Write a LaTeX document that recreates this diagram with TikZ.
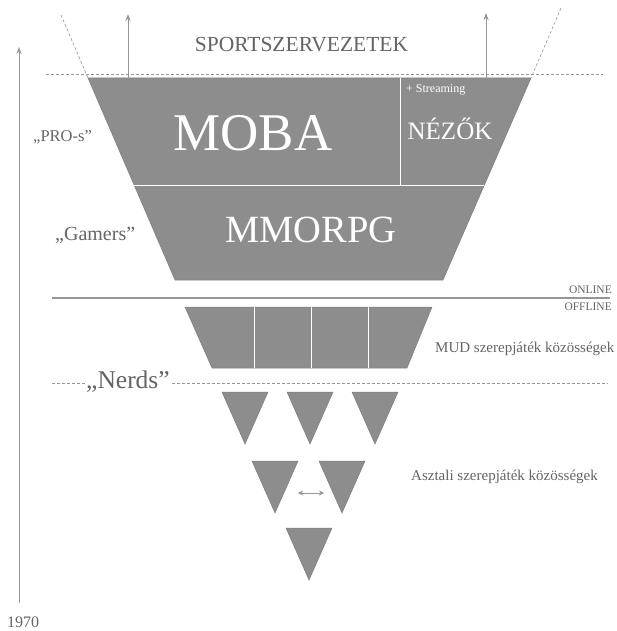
\documentclass[tikz,border=0pt]{standalone}
\usepackage{fontspec}
\setmainfont{Liberation Serif}
\newfontfamily\diagfont{Liberation Serif}
\usetikzlibrary{arrows.meta}
\definecolor{boxgray}{RGB}{141,141,141}
\definecolor{txtgray}{RGB}{100,100,100}
\definecolor{linegray}{RGB}{150,150,150}

\begin{document}
\begin{tikzpicture}[x=1pt, y=-1pt,
  funnel/.style={fill=boxgray, draw=boxgray!88!black, line width=0.5pt},
  sepline/.style={draw=white, line width=0.7pt},
  dashline/.style={draw=linegray, line width=0.6pt, dash pattern=on 3pt off 2pt},
  upline/.style={draw=linegray, line width=1pt, -{Stealth[length=7pt, width=5pt]}},
  lbl/.style={inner sep=0pt, text=txtgray},
  inlbl/.style={inner sep=0pt, text=white}]
\useasboundingbox (0,0) rectangle (617,631);

\draw[dashline] (46,74) -- (603,74);
\draw[dashline] (61,15) -- (88,78);
\draw[dashline] (561,8) -- (531,78);

\filldraw[funnel] (88,78) -- (531,78) -- (443,280) -- (175,280) -- cycle;
\draw[sepline] (134,185) -- (484,185);
\draw[sepline] (400,78) -- (400,185);

\filldraw[funnel] (185,307) -- (432,307) -- (407,368) -- (212,368) -- cycle;
\foreach \dx in {254, 311, 368}
  \draw[sepline] (\dx,307) -- (\dx,368);

\foreach \tx/\ty in {222/392, 287/392, 352/392, 252/461, 319/461, 286/528}
  \filldraw[funnel] (\tx,\ty) -- ++(46,0) -- ++(-23,52) -- cycle;

\coordinate (axis0) at (19,603);
\coordinate (axis1) at (19,47);
\coordinate (up1a) at (128,78);
\coordinate (up1b) at (128,14);
\coordinate (up2a) at (486,78);
\coordinate (up2b) at (486,13);
\coordinate (swapl) at (298,493);
\coordinate (swapr) at (324,493);
\coordinate (onl) at (52,298);
\coordinate (onr) at (610,298);
\coordinate (nl) at (52,383);
\coordinate (nr) at (608,383);

\draw[upline] (axis0) -- (axis1);
\draw[upline] (up1a) -- (up1b);
\draw[upline] (up2a) -- (up2b);
\draw[draw=linegray, line width=1pt, {Stealth[length=5pt, width=5pt]}-{Stealth[length=5pt, width=5pt]}] (swapl) -- (swapr);
\draw[draw=linegray, line width=1.2pt] (onl) -- (onr);
\draw[dashline] (nl) -- (nr);

\node at (301.5,52) (sport) [lbl, anchor=base, font=\diagfont\fontsize{21.5}{24}\selectfont] {SPORTSZERVEZETEK};
\node at (253,150) (moba) [inlbl, anchor=base, font=\diagfont\fontsize{53}{60}\selectfont] {MOBA};
\node at (406,93) (stream) [inlbl, anchor=base west, font=\diagfont\fontsize{12}{14}\selectfont] {+ Streaming};
\node at (450,140) (nezok) [inlbl, anchor=base, font=\diagfont\fontsize{25}{28}\selectfont] {NÉZŐK};
\node at (311,242) (mmorpg) [inlbl, anchor=base, font=\diagfont\fontsize{38.5}{44}\selectfont] {MMORPG};
\node at (33,142) (pros) [lbl, anchor=base west, font=\diagfont\fontsize{16.5}{19}\selectfont] {„PRO-s”};
\node at (55,240) (gamers) [lbl, anchor=base west, font=\diagfont\fontsize{20}{23}\selectfont] {„Gamers”};
\node at (612,293) (online) [lbl, anchor=base east, font=\diagfont\fontsize{11.5}{13}\selectfont] {ONLINE};
\node at (612,310) (offline) [lbl, anchor=base east, font=\diagfont\fontsize{11.5}{13}\selectfont] {OFFLINE};
\node at (435,352) (mud) [lbl, anchor=base west, font=\diagfont\fontsize{15}{17}\selectfont] {MUD szerepjáték közösségek};
\node at (85,388) (nerds) [lbl, anchor=base west, fill=white, inner xsep=1pt, font=\diagfont\fontsize{25.5}{28}\selectfont] {„Nerds”};
\node at (411,480) (asztali) [lbl, anchor=base west, font=\diagfont\fontsize{15}{17}\selectfont] {Asztali szerepjáték közösségek};
\node at (7,627) (year) [lbl, anchor=base west, font=\diagfont\fontsize{16}{18}\selectfont] {1970};
\end{tikzpicture}
\end{document}
